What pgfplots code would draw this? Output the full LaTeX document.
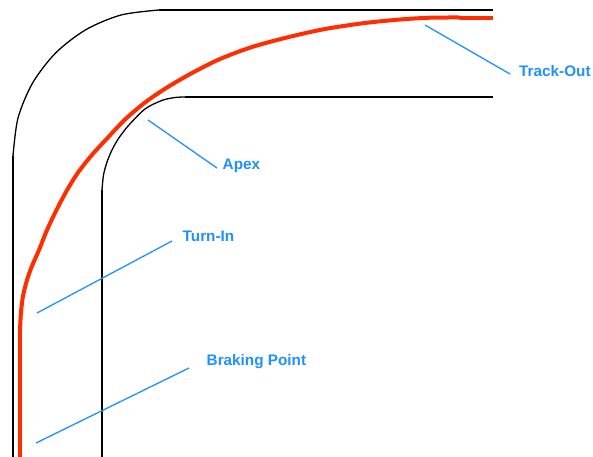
\documentclass[border=0pt]{standalone}
\usepackage{fontspec}
\setmainfont{Liberation Sans}
\usepackage{pgfplots}
\pgfplotsset{compat=1.18}

\definecolor{lineRed}{RGB}{255,45,0}
\definecolor{callBlue}{RGB}{30,144,255}

\tikzset{lbl/.style={anchor=base west, inner sep=0pt, text=callBlue,
    font=\fontsize{15.3}{18}\selectfont\bfseries}}

\begin{document}
\begin{tikzpicture}
\begin{axis}[
    width=593pt, height=456pt, scale only axis,
    xmin=0, xmax=593, ymin=0, ymax=456,
    y dir=reverse,
    hide axis,
]
\path (rel axis cs:0,0) rectangle (rel axis cs:1,1);

% outer edge
\addplot[black, line width=1.3pt] coordinates {(13,460) (13,156)};
\addplot[black, line width=1.3pt, smooth] coordinates {
    (13,156) (18,118) (32.6,83) (55.8,52.8) (86,29.6) (121,15) (159,10)};
\addplot[black, line width=1.3pt] coordinates {(159,10) (493,10)};

% inner edge
\addplot[black, line width=1.3pt] coordinates {(102,460) (102,190)};
\addplot[black, line width=1.3pt, smooth] coordinates {
    (102,190) (103.5,175) (107,162) (112,150) (118.5,138.5) (128.5,125.5)
    (145,109) (161.7,100.5) (175,97.5) (185,97)};
\addplot[black, line width=1.3pt] coordinates {(185,97) (493,97)};

% racing line
\addplot[lineRed, line width=4pt] coordinates {(20,460) (20,330)};
\addplot[lineRed, line width=4pt, smooth] coordinates {
    (20,330) (21,312) (23,296) (27,280) (32,266) (39,250) (47,230)
    (56,211) (66,192) (77,174) (91,156) (107,138.5) (125,119.5) (145,102.5)
    (167,87.5) (192,73) (220,59) (252,47) (288,37.2) (325,29) (365,23)
    (400,19.5) (430,17.7) (460,17.5)};
\addplot[lineRed, line width=4pt] coordinates {(460,17.5) (493,17.5)};

% callouts
\addplot[callBlue, line width=1.3pt] coordinates {(425,25) (510,74)};
\addplot[callBlue, line width=1.3pt] coordinates {(148,120) (217,168)};
\addplot[callBlue, line width=1.3pt] coordinates {(37,313) (172,241)};
\addplot[callBlue, line width=1.3pt] coordinates {(36,443) (189,368)};

\node[lbl] at (axis cs:519,76) {Track-Out};
\node[lbl] at (axis cs:222.5,169) {Apex};
\node[lbl] at (axis cs:182.5,241.5) {Turn-In};
\node[lbl] at (axis cs:206.5,365) {Braking Point};
\end{axis}
\end{tikzpicture}
\end{document}
